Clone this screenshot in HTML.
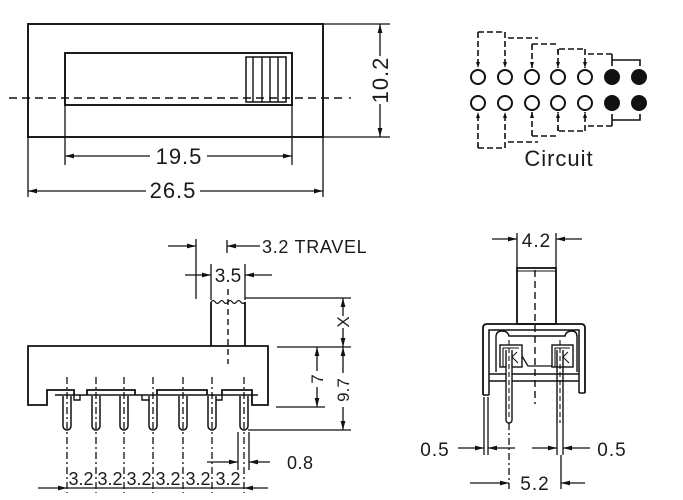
<!DOCTYPE html>
<html><head><meta charset="utf-8"><style>
html,body{margin:0;padding:0;background:#fff;}
svg{display:block;}
text{font-family:"Liberation Sans",Arial,sans-serif;fill:#1a1a1a;}
</style></head><body>
<svg width="683" height="500" viewBox="0 0 683 500" xmlns="http://www.w3.org/2000/svg">
<defs>
<marker id="a" markerWidth="9" markerHeight="6" refX="9" refY="3" orient="auto" markerUnits="userSpaceOnUse"><path d="M0,0.6 L9,3 L0,5.4z" fill="#111"/></marker>
<marker id="s" markerWidth="6" markerHeight="5" refX="6" refY="2.5" orient="auto" markerUnits="userSpaceOnUse"><path d="M0,0.5 L6,2.5 L0,4.5z" fill="#111"/></marker>
</defs>
<rect width="683" height="500" fill="#fff"/>

<!-- ============ TOP LEFT VIEW ============ -->
<g stroke="#111" fill="none">
<rect x="28" y="24" width="295" height="113" stroke-width="1.9"/>
<rect x="65" y="53" width="227" height="52" stroke-width="1.9"/>
<rect x="246" y="57" width="40" height="45" stroke-width="1.5"/>
<g stroke-width="1.4"><line x1="253" y1="57" x2="253" y2="102"/><line x1="262" y1="57" x2="262" y2="102"/><line x1="270" y1="57" x2="270" y2="102"/><line x1="278" y1="57" x2="278" y2="102"/></g>
<line x1="9" y1="98" x2="346" y2="98" stroke-width="1.4" stroke-dasharray="8 5"/>
<line x1="349" y1="98" x2="351" y2="98" stroke-width="1.4"/>
<g stroke-width="1.3">
<line x1="323" y1="24" x2="390" y2="24"/><line x1="323" y1="137" x2="390" y2="137"/>
<line x1="380" y1="56" x2="380" y2="24" marker-end="url(#a)"/>
<line x1="380" y1="104" x2="380" y2="137" marker-end="url(#a)"/>
<line x1="65" y1="105" x2="65" y2="165"/><line x1="292" y1="105" x2="292" y2="165"/>
<line x1="150" y1="156" x2="65" y2="156" marker-end="url(#a)"/>
<line x1="207" y1="156" x2="292" y2="156" marker-end="url(#a)"/>
<line x1="28" y1="137" x2="28" y2="197"/><line x1="323" y1="137" x2="323" y2="197"/>
<line x1="146" y1="191" x2="28" y2="191" marker-end="url(#a)"/>
<line x1="200" y1="191" x2="323" y2="191" marker-end="url(#a)"/>
</g>
</g>
<text x="380" y="80" font-size="22" letter-spacing="1" text-anchor="middle" transform="rotate(-90 380 80) translate(0 8)">10.2</text>
<text x="179" y="164" font-size="22" letter-spacing="1" text-anchor="middle">19.5</text>
<text x="173" y="198" font-size="22" letter-spacing="1" text-anchor="middle">26.5</text>

<!-- ============ CIRCUIT ============ -->
<g stroke="#111" fill="none" stroke-width="2">
<circle cx="478" cy="77" r="7"/><circle cx="505" cy="77" r="7"/><circle cx="532" cy="77" r="7"/><circle cx="558" cy="77" r="7"/><circle cx="585" cy="77" r="7"/>
<circle cx="478" cy="103" r="7"/><circle cx="505" cy="103" r="7"/><circle cx="532" cy="103" r="7"/><circle cx="558" cy="103" r="7"/><circle cx="585" cy="103" r="7"/>
</g>
<g fill="#111"><circle cx="612" cy="77" r="8"/><circle cx="639" cy="77" r="8"/><circle cx="612" cy="103" r="8"/><circle cx="639" cy="103" r="8"/></g>
<g stroke="#111" fill="none" stroke-width="1.6" stroke-dasharray="6 3">
<line x1="478" y1="32" x2="478" y2="68" marker-end="url(#s)"/>
<line x1="478" y1="32" x2="505" y2="32"/>
<line x1="505" y1="32" x2="505" y2="68" marker-end="url(#s)"/>
<line x1="508" y1="38" x2="538" y2="38"/>
<line x1="532" y1="44" x2="532" y2="68" marker-end="url(#s)"/>
<line x1="532" y1="44" x2="559" y2="44"/>
<line x1="558" y1="49" x2="558" y2="68" marker-end="url(#s)"/>
<line x1="559" y1="49" x2="586" y2="49"/>
<line x1="585" y1="49" x2="585" y2="68" marker-end="url(#s)"/>
<line x1="588" y1="54" x2="612" y2="54"/>
<line x1="478" y1="148" x2="478" y2="112" marker-end="url(#s)"/>
<line x1="478" y1="148" x2="505" y2="148"/>
<line x1="505" y1="148" x2="505" y2="112" marker-end="url(#s)"/>
<line x1="508" y1="142" x2="538" y2="142"/>
<line x1="532" y1="136" x2="532" y2="112" marker-end="url(#s)"/>
<line x1="532" y1="136" x2="559" y2="136"/>
<line x1="558" y1="131" x2="558" y2="112" marker-end="url(#s)"/>
<line x1="559" y1="131" x2="586" y2="131"/>
<line x1="585" y1="131" x2="585" y2="112" marker-end="url(#s)"/>
<line x1="588" y1="126" x2="612" y2="126"/>
</g>
<g stroke="#111" fill="none" stroke-width="1.6">
<line x1="558" y1="49" x2="558" y2="53"/><line x1="558" y1="127" x2="558" y2="131"/>
<line x1="612" y1="54" x2="612" y2="66"/><path d="M612,60 H640 V66"/>
<line x1="612" y1="126" x2="612" y2="114"/><path d="M612,120 H640 V114"/>
</g>
<text x="559" y="166" font-size="22" letter-spacing="1" text-anchor="middle">Circuit</text>

<!-- ============ BOTTOM LEFT VIEW ============ -->
<g stroke="#111" fill="none" stroke-width="1.8">
<path d="M74,395 V390 H47 V405 H28 V346 H268 V405 H252 V390 H222 V395"/>
<path d="M87,395 V390 H135 V395"/>
<path d="M157,395 V390 H207 V395"/>
<path d="M74,395 V400 H80 V395 M142,395 V400 H153 V395 M213,395 V400 H222 V395" stroke-width="1.4"/>
<line x1="55" y1="395" x2="258" y2="395" stroke-width="1.4"/>
<line x1="211" y1="302" x2="211" y2="346"/>
<line x1="245" y1="302" x2="245" y2="346"/>
<path d="M211,302 q2.1,-3 4.25,0 q2.1,3 4.25,0 q2.1,-3 4.25,0 q2.1,3 4.25,0 q2.1,-3 4.25,0 q2.1,3 4.25,0 q2.1,-3 4.25,0 q2.1,3 4.25,0" stroke-width="1.2"/>
</g>
<line x1="228" y1="289" x2="228" y2="364" stroke="#111" stroke-width="1.4" stroke-dasharray="6 4"/>
<g stroke="#111" fill="#fff" stroke-width="1.5">
<path d="M63,396 V426 A4,4 0 0 0 71,426 V396"/>
<path d="M92,396 V426 A4,4 0 0 0 100,426 V396"/>
<path d="M120,396 V426 A4,4 0 0 0 128,426 V396"/>
<path d="M149,396 V426 A4,4 0 0 0 157,426 V396"/>
<path d="M179,396 V426 A4,4 0 0 0 187,426 V396"/>
<path d="M208,396 V426 A4,4 0 0 0 216,426 V396"/>
<path d="M240,396 V426 A4,4 0 0 0 248,426 V396"/>
</g>
<g stroke="#111" stroke-width="1.3" stroke-dasharray="7 3 2 3">
<line x1="67" y1="377" x2="67" y2="493"/>
<line x1="96" y1="377" x2="96" y2="493"/>
<line x1="124" y1="377" x2="124" y2="493"/>
<line x1="153" y1="377" x2="153" y2="493"/>
<line x1="183" y1="377" x2="183" y2="493"/>
<line x1="212" y1="377" x2="212" y2="493"/>
<line x1="244" y1="377" x2="244" y2="493"/>
</g>
<g stroke="#111" fill="none" stroke-width="1.3">
<line x1="38" y1="488" x2="67" y2="488" marker-end="url(#a)"/>
<line x1="67" y1="488" x2="244" y2="488"/>
<line x1="268" y1="488" x2="244" y2="488" marker-end="url(#a)"/>
<line x1="238" y1="432" x2="238" y2="470"/>
<line x1="249" y1="432" x2="249" y2="470"/>
<line x1="207" y1="462" x2="238" y2="462" marker-end="url(#a)"/>
<line x1="270" y1="462" x2="249" y2="462" marker-end="url(#a)"/>
<line x1="168" y1="246" x2="196" y2="246" marker-end="url(#a)"/>
<line x1="196" y1="239" x2="196" y2="299"/>
<line x1="227" y1="240" x2="227" y2="253"/>
<line x1="260" y1="246" x2="227" y2="246" marker-end="url(#a)"/>
<line x1="211" y1="264" x2="211" y2="300"/>
<line x1="245" y1="264" x2="245" y2="300"/>
<line x1="185" y1="275" x2="211" y2="275" marker-end="url(#a)"/>
<line x1="272" y1="275" x2="245" y2="275" marker-end="url(#a)"/>
<line x1="245" y1="298" x2="351" y2="298"/>
<line x1="277" y1="347" x2="351" y2="347"/>
<line x1="276" y1="407" x2="325" y2="407"/>
<line x1="248" y1="430" x2="351" y2="430"/>
<line x1="343" y1="316" x2="343" y2="298" marker-end="url(#a)"/>
<line x1="343" y1="328" x2="343" y2="347" marker-end="url(#a)"/>
<line x1="343" y1="373" x2="343" y2="347" marker-end="url(#a)"/>
<line x1="343" y1="407" x2="343" y2="430" marker-end="url(#a)"/>
<line x1="317" y1="371" x2="317" y2="347" marker-end="url(#a)"/>
<line x1="317" y1="387" x2="317" y2="407" marker-end="url(#a)"/>
</g>
<g font-size="18" text-anchor="middle">
<text x="81" y="485">3.2</text><text x="110" y="485">3.2</text><text x="139" y="485">3.2</text><text x="168" y="485">3.2</text><text x="198" y="485">3.2</text><text x="228" y="485">3.2</text>
</g>
<text x="287" y="469" font-size="18" letter-spacing="0.5">0.8</text>
<text x="262" y="253" font-size="18" letter-spacing="0.7">3.2 TRAVEL</text>
<text x="228" y="282" font-size="19" text-anchor="middle">3.5</text>
<text font-size="17" text-anchor="middle" transform="translate(349 322) rotate(-90)">X</text>
<text font-size="17" text-anchor="middle" transform="translate(323 379) rotate(-90)">7</text>
<text font-size="17" text-anchor="middle" transform="translate(349 390) rotate(-90)">9.7</text>

<!-- ============ BOTTOM RIGHT VIEW ============ -->
<g stroke="#111" fill="none" stroke-width="1.8">
<rect x="517" y="268" width="39" height="56"/>
<line x1="517" y1="271" x2="556" y2="271" stroke-width="1"/>
<path d="M483,395 V328 Q483,324 487,324 H581 Q585,324 585,328 V393"/>
<path d="M489,395 V330 H579 V393" stroke-width="1.5"/>
<path d="M483,395 H489 M579,393 H585" stroke-width="1.4"/>
<line x1="489" y1="374" x2="579" y2="374" stroke-width="1.5"/>
<line x1="489" y1="381" x2="579" y2="381" stroke-width="1.5"/>
<path d="M496,372 V337 Q496,331 502,331 Q508,331 509,336 H565 Q566,331 572,331 Q577,331 577,337 V372" stroke-width="1.4"/>
<rect x="500" y="345" width="22" height="22" stroke-width="1.4"/>
<path d="M503,367 V348 H519" stroke-width="1.1"/>
<rect x="552" y="345" width="21" height="22" stroke-width="1.4"/>
<path d="M555,367 V348 H570" stroke-width="1.1"/>
<path d="M522,356 L528,366 H552" stroke-width="1.3"/>
<path d="M512,357 L517,352 M512,357 L518,363 M563,357 L568,352 M563,357 L569,363" stroke-width="1"/>
</g>
<g stroke="#111" fill="#fff" stroke-width="1.4">
<path d="M506,350 V420 A3,3 0 0 0 512,420 V350"/>
<path d="M557,350 V423 M563,350 V423"/>
</g>
<line x1="535" y1="270" x2="535" y2="404" stroke="#111" stroke-width="1.4" stroke-dasharray="7 4"/>
<g stroke="#111" stroke-width="1.1" stroke-dasharray="5 3">
<line x1="509" y1="340" x2="509" y2="420"/>
<line x1="560" y1="340" x2="560" y2="423"/>
</g>
<g stroke="#111" fill="none" stroke-width="1.3">
<line x1="517" y1="233" x2="517" y2="268"/>
<line x1="556" y1="233" x2="556" y2="268"/>
<line x1="492" y1="239" x2="517" y2="239" marker-end="url(#a)"/>
<line x1="582" y1="239" x2="556" y2="239" marker-end="url(#a)"/>
<line x1="484" y1="397" x2="484" y2="455"/>
<line x1="488" y1="397" x2="488" y2="455"/>
<line x1="458" y1="448" x2="484" y2="448" marker-end="url(#a)"/>
<line x1="515" y1="448" x2="488" y2="448" marker-end="url(#a)"/>
<line x1="557" y1="423" x2="557" y2="455"/>
<line x1="563" y1="423" x2="563" y2="455"/>
<line x1="532" y1="448" x2="557" y2="448" marker-end="url(#a)"/>
<line x1="590" y1="448" x2="563" y2="448" marker-end="url(#a)"/>
<line x1="509" y1="423" x2="509" y2="489" stroke-dasharray="7 3 2 3"/>
<line x1="561" y1="455" x2="561" y2="489"/>
<line x1="470" y1="483" x2="509" y2="483" marker-end="url(#a)"/>
<line x1="585" y1="483" x2="561" y2="483" marker-end="url(#a)"/>
</g>
<text x="536.5" y="247" font-size="19" letter-spacing="1" text-anchor="middle">4.2</text>
<text x="435" y="456" font-size="19" letter-spacing="1" text-anchor="middle">0.5</text>
<text x="612" y="456" font-size="19" letter-spacing="1" text-anchor="middle">0.5</text>
<text x="535" y="490" font-size="19" letter-spacing="1" text-anchor="middle">5.2</text>
</svg>
</body></html>
